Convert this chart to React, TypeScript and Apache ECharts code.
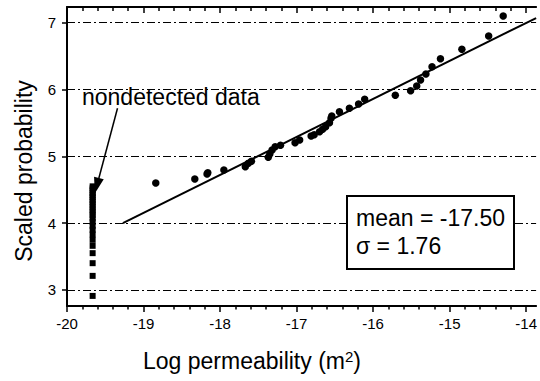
import React, { useEffect, useRef } from 'react';
import * as echarts from 'echarts';

const xTickValues = [-20, -19, -18, -17, -16, -15, -14];
const yTickValues = [3, 4, 5, 6, 7];
const gridLineValues = [3, 4, 5, 6, 7];

const detectedX = [-18.84, -18.33, -18.17, -18.16, -17.95, -17.67, -17.63, -17.59, -17.37, -17.35, -17.32, -17.28, -17.21, -17.02, -16.96, -16.81, -16.77, -16.70, -16.66, -16.62, -16.57, -16.55, -16.54, -16.44, -16.31, -16.19, -16.11, -15.71, -15.51, -15.43, -15.38, -15.31, -15.23, -15.12, -14.84, -14.49, -14.30];
const detectedY = [4.60, 4.66, 4.735, 4.755, 4.795, 4.844, 4.895, 4.925, 4.985, 5.035, 5.095, 5.144, 5.165, 5.204, 5.244, 5.304, 5.323, 5.368, 5.404, 5.443, 5.503, 5.569, 5.603, 5.668, 5.719, 5.783, 5.853, 5.913, 5.982, 6.052, 6.142, 6.232, 6.341, 6.461, 6.602, 6.80, 7.10];

const nondetectedX = -19.665;
const nondetectedY = [2.91, 3.21, 3.40, 3.55, 3.66, 3.75, 3.83, 3.90, 3.96, 4.02, 4.07, 4.12, 4.16, 4.20, 4.24, 4.28, 4.32, 4.35, 4.39, 4.42, 4.45, 4.49, 4.52, 4.55];

const fitX = [-19.27, -13.87];
const fitY = [4.0, 7.07];

const arrowFrom = [-19.34, 5.72];
const arrowTo = [-19.61, 4.56];

const statsLines = ['mean = -17.50', 'σ = 1.76'];
const noteText = 'nondetected data';

const FONT = '"Liberation Sans", Arial, Helvetica, sans-serif';

const X_MIN = -20;
const X_MAX = -13.87;
const Y_VIS_MIN = 2.76;
const Y_VIS_MAX = 7.235;

export default function App() {
  const ref = useRef<HTMLDivElement>(null);
  useEffect(() => {
    if (!ref.current) return;
    const chart = echarts.init(ref.current, null, { renderer: 'svg' });
    const black = { color: '#000', opacity: 1 };
    const option: any = {
      animation: false,
      backgroundColor: '#fff',
      grid: [
        // data grid: integer y extent 2..7 (66.8 px per unit), frame axes shifted with offset
        { left: 67, right: 0, top: 22.7, bottom: 24.3 },
        // visible frame grid (2.76..7.235), used only for the left frame line
        { left: 67, right: 0, top: 7, bottom: 75 },
      ],
      xAxis: [
        {
          type: 'value', gridIndex: 0, min: X_MIN, max: X_MAX, interval: 1,
          position: 'bottom', offset: -50.7,
          axisLine: { show: true, onZero: false, lineStyle: { ...black, width: 2 } },
          axisTick: { show: true, inside: false, length: 6, customValues: xTickValues, lineStyle: { ...black, width: 1.5 } },
          minorTick: { show: true, splitNumber: 5, length: 3.5, lineStyle: { ...black, width: 1.5 } },
          axisLabel: { show: true, customValues: xTickValues, margin: 10, fontSize: 15, color: '#000', fontFamily: FONT },
          splitLine: { show: false },
        },
        {
          type: 'value', gridIndex: 0, min: X_MIN, max: X_MAX, interval: 1,
          position: 'top', offset: 15.7,
          axisLine: { show: true, onZero: false, lineStyle: { ...black, width: 2 } },
          axisTick: { show: true, inside: true, length: 6, customValues: xTickValues, lineStyle: { ...black, width: 1.5 } },
          minorTick: { show: true, splitNumber: 5, length: 4, lineStyle: { ...black, width: 1.5 } },
          axisLabel: { show: false },
          splitLine: { show: false },
        },
        {
          type: 'value', gridIndex: 1, min: X_MIN, max: X_MAX, show: false,
        },
      ],
      yAxis: [
        {
          type: 'value', gridIndex: 0, min: 2, max: 7, interval: 1,
          axisLine: { show: false },
          axisTick: { show: true, inside: false, length: 5, customValues: yTickValues, lineStyle: { ...black, width: 1.5 } },
          axisLabel: { show: true, customValues: yTickValues, margin: 11, fontSize: 15, color: '#000', fontFamily: FONT },
          splitLine: { show: false },
        },
        {
          type: 'value', gridIndex: 1, min: Y_VIS_MIN, max: Y_VIS_MAX,
          axisLine: { show: true, onZero: false, lineStyle: { ...black, width: 2 } },
          axisTick: { show: false },
          axisLabel: { show: false },
          splitLine: { show: false },
        },
      ],
      series: [
        {
          type: 'line',
          xAxisIndex: 0, yAxisIndex: 0,
          data: fitX.map((x, i) => [x, fitY[i]]),
          symbol: 'none',
          clip: false,
          lineStyle: { color: '#000', width: 2 },
          z: 3,
          markLine: {
            silent: true,
            symbol: ['none', 'none'],
            label: { show: false },
            lineStyle: { color: '#000', width: 1, type: [8, 3, 2, 3] },
            data: gridLineValues.map((v) => ({ yAxis: v })),
          },
        },
        {
          type: 'scatter',
          xAxisIndex: 0, yAxisIndex: 0,
          data: detectedX.map((x, i) => [x, detectedY[i]]),
          symbol: 'circle',
          symbolSize: 7.5,
          clip: false,
          itemStyle: { color: '#000', opacity: 1 },
          z: 4,
        },
        {
          type: 'scatter',
          xAxisIndex: 0, yAxisIndex: 0,
          data: nondetectedY.map((y) => [nondetectedX, y]),
          symbol: 'rect',
          symbolSize: 6,
          clip: false,
          itemStyle: { color: '#000', opacity: 1 },
          z: 4,
          markLine: {
            silent: true,
            symbol: ['none', 'triangle'],
            symbolSize: [10, 16],
            label: { show: false },
            lineStyle: { color: '#000', width: 1.5, type: 'solid' },
            data: [[{ coord: arrowFrom }, { coord: arrowTo }]],
          },
        },
      ],
      graphic: [
        {
          type: 'text', x: 82, y: 97, z: 50,
          style: { text: noteText, font: `23px ${FONT}`, fill: '#000', textAlign: 'left', textVerticalAlign: 'middle' },
        },
        {
          type: 'rect', z: 100,
          shape: { x: 347, y: 196, width: 167, height: 73 },
          style: { fill: '#fff', stroke: '#000', lineWidth: 2 },
        },
        {
          type: 'text', x: 356, y: 218, z: 101,
          style: { text: statsLines[0], font: `23px ${FONT}`, fill: '#000', textAlign: 'left', textVerticalAlign: 'middle' },
        },
        {
          type: 'text', x: 356, y: 246, z: 101,
          style: { text: statsLines[1], font: `23px ${FONT}`, fill: '#000', textAlign: 'left', textVerticalAlign: 'middle' },
        },
        {
          type: 'text', x: 24, y: 171, rotation: Math.PI / 2, z: 50,
          style: { text: 'Scaled probability', font: `23px ${FONT}`, fill: '#000', textAlign: 'center', textVerticalAlign: 'middle' },
        },
        {
          type: 'text', x: 143, y: 361, z: 50,
          style: {
            text: 'Log permeability (m{sup|2})',
            font: `23px ${FONT}`,
            fill: '#000',
            textAlign: 'left',
            textVerticalAlign: 'middle',
            rich: {
              sup: { fontSize: 15, fontFamily: FONT, verticalAlign: 'top', padding: [0, 0, 10, 0] },
            },
          },
        },
      ],
    };
    chart.setOption(option);
    return () => chart.dispose();
  }, []);
  return <div ref={ref} style={{ position: 'fixed', left: 0, top: 0, width: 540, height: 381 }} />;
}
